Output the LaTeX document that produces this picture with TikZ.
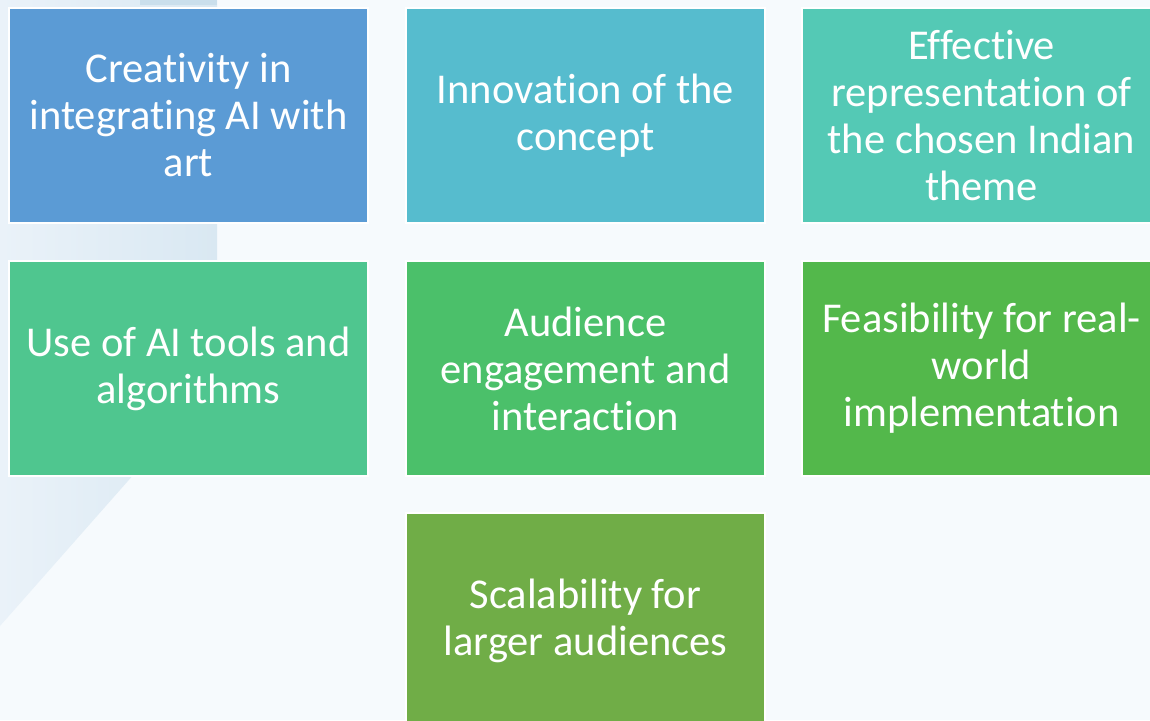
\documentclass[tikz,border=0pt]{standalone}
\usepackage{fontspec}
\setmainfont[Ligatures={NoCommon}]{Carlito}
\definecolor{bgc}{HTML}{F6FAFD}
\definecolor{decoL}{HTML}{EAF2F9}
\definecolor{decoR}{HTML}{D9E8F2}
\definecolor{decoT}{HTML}{CADFEC}
\definecolor{cA}{HTML}{5B9BD5}
\definecolor{cB}{HTML}{56BCCE}
\definecolor{cC}{HTML}{54C9B5}
\definecolor{cD}{HTML}{4FC68F}
\definecolor{cE}{HTML}{4BC06A}
\definecolor{cF}{HTML}{53B84B}
\definecolor{cG}{HTML}{70AD47}
\tikzset{
  tile/.style={rectangle, draw=white, line width=2pt, minimum width=359pt, minimum height=215pt,
    inner sep=0pt, text=white, align=center, font=\fontsize{42.5}{47}\selectfont, anchor=north west}
}
\begin{document}
\begin{tikzpicture}[x=1pt,y=-1pt]
\useasboundingbox (0,0) rectangle (1150,720);
\clip (0,0) rectangle (1150,720);
\fill[bgc] (0,0) rectangle (1150,720);
% decorative background shape
\shade[left color=decoL, right color=decoR] (0,0) -- (217,0) -- (217,380) -- (0,626) -- cycle;
\fill[decoT] (140,0) rectangle (217,5);
% tiles
\node[tile, fill=cA] (t1) at (8,7) {Creativity in\\integrating AI with\\art};
\node[tile, fill=cB] (t2) at (405,7) {Innovation of the\\concept};
\node[tile, fill=cC] (t3) at (801,7) {Effective\\representation of\\the chosen Indian\\theme};
\node[tile, fill=cD] (t4) at (8,260) {Use of AI tools and\\algorithms};
\node[tile, fill=cE] (t5) at (405,260) {Audience\\engagement and\\interaction};
\node[tile, fill=cF] (t6) at (801,260) {Feasibility for real-\\world\\implementation};
\node[tile, fill=cG] (t7) at (405,512) {Scalability for\\larger audiences};
\end{tikzpicture}
\end{document}
